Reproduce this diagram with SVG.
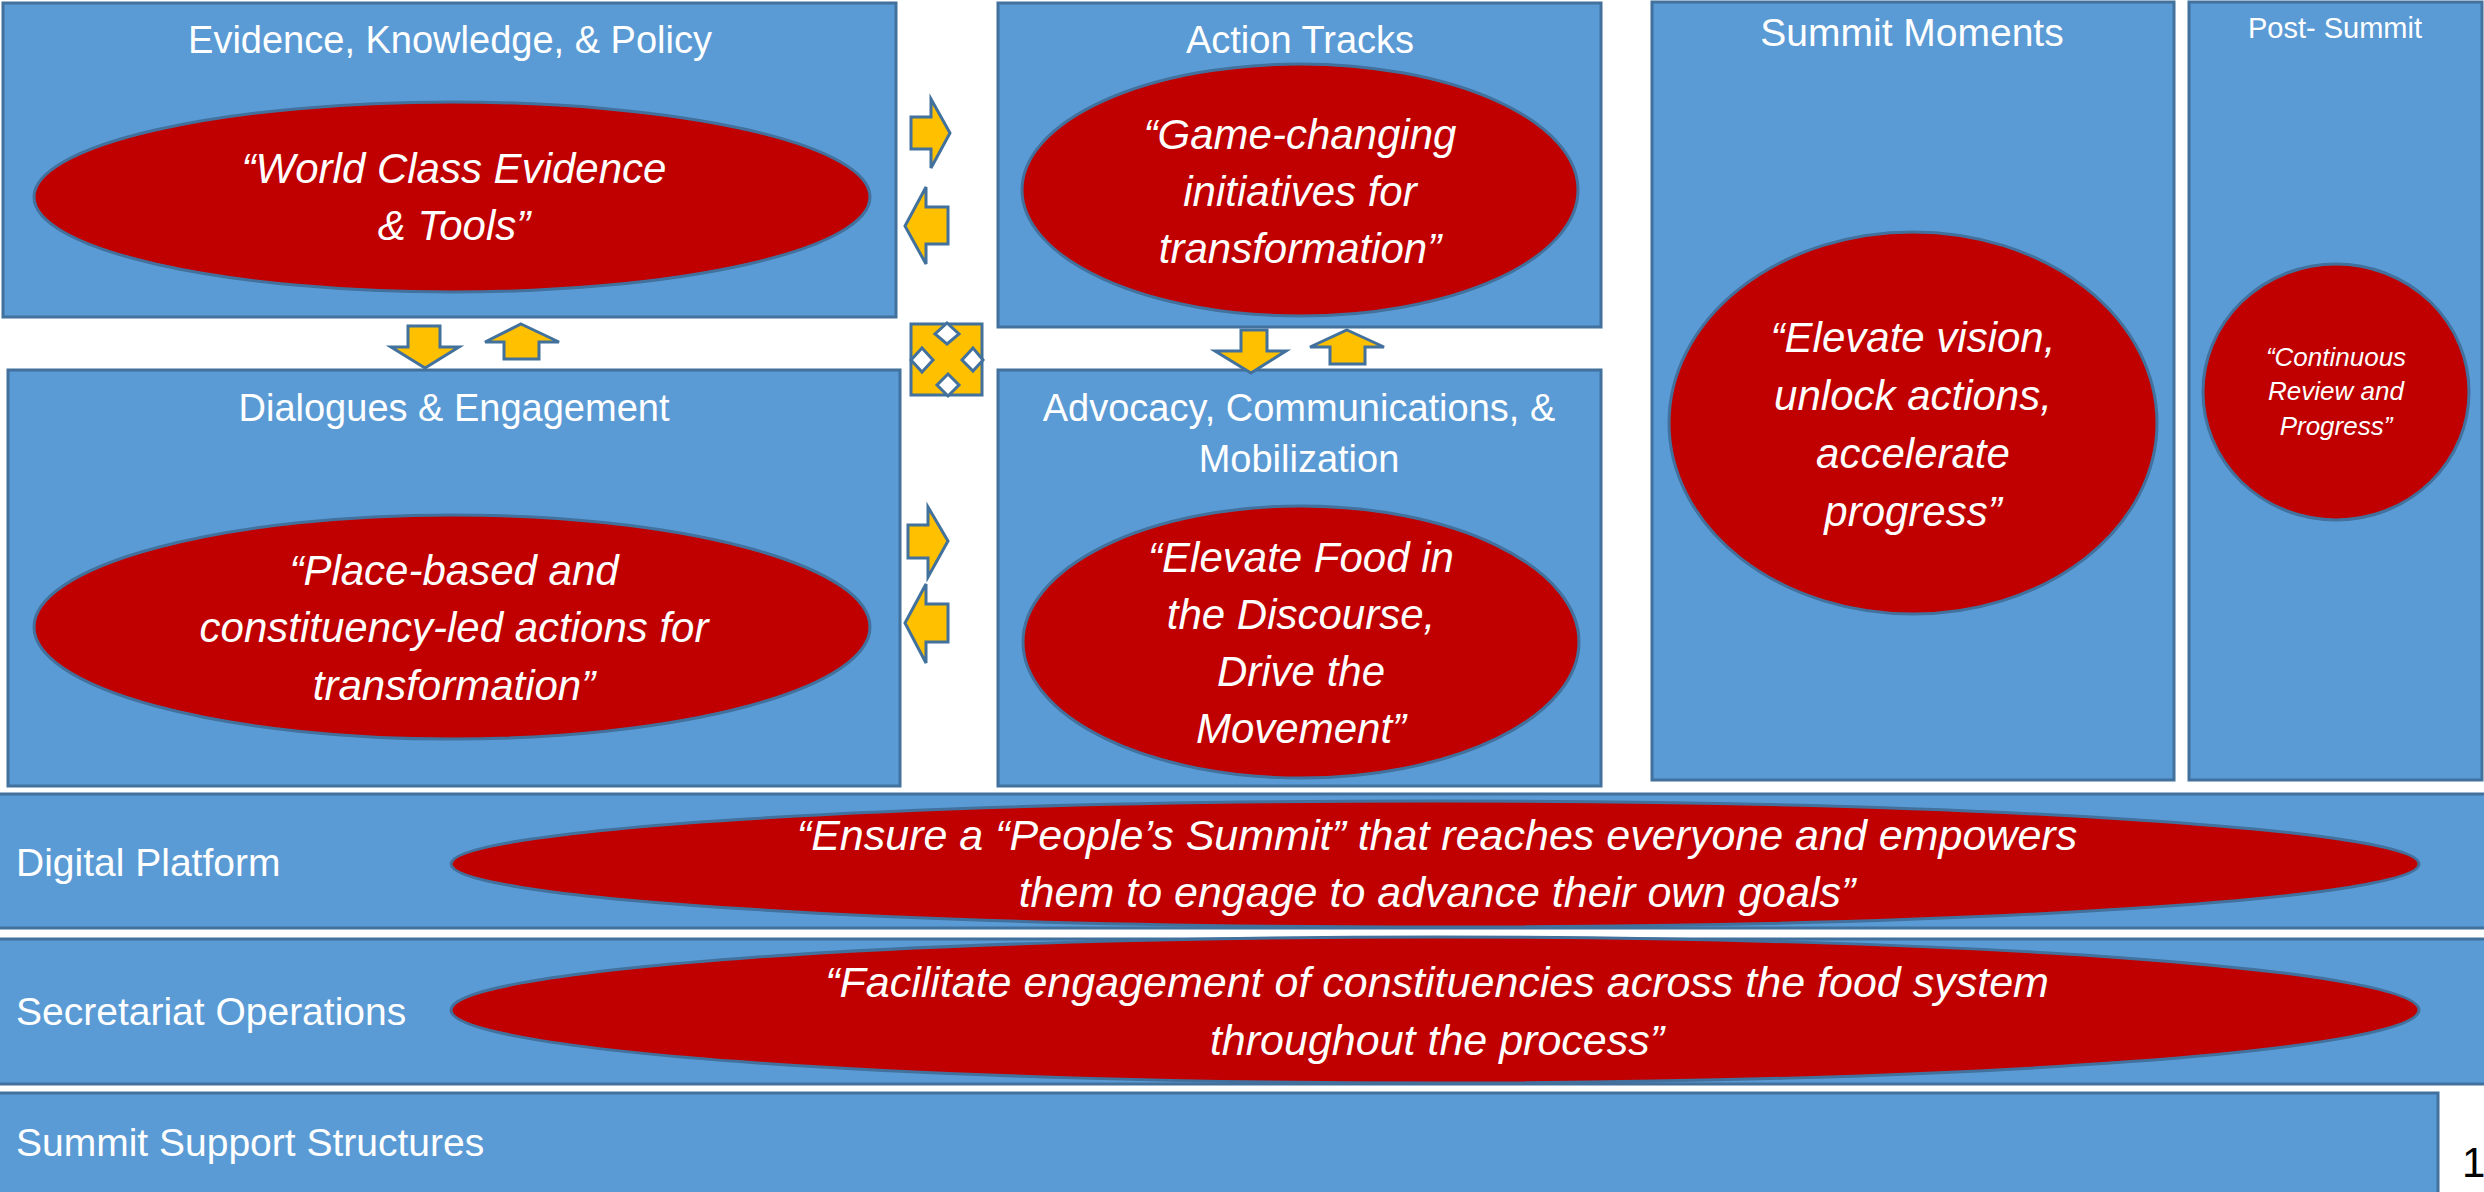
<svg xmlns="http://www.w3.org/2000/svg" width="2484" height="1192" viewBox="0 0 2484 1192">
<style>
.box{fill:#5B9BD5;stroke:#41719C;stroke-width:3}
.oval{fill:#C00000;stroke:#41719C;stroke-width:3}
.arr{fill:#FFC000;stroke:#41719C;stroke-width:3;stroke-linejoin:miter}
.notch{fill:#FFFFFF;stroke:#41719C;stroke-width:3}
.hd{font-family:"Liberation Sans",Arial,sans-serif;fill:#FFFFFF;text-anchor:middle}
.lb{font-family:"Liberation Sans",Arial,sans-serif;fill:#FFFFFF;font-size:39px}
.q{font-family:"Liberation Sans",Arial,sans-serif;fill:#FFFFFF;font-style:italic;text-anchor:middle;font-size:42px}
.qs{font-size:26px}
.ql{font-size:43px}
</style>
<rect width="2484" height="1192" fill="#FFFFFF"/>

<g id="evidence-knowledge-policy">
<rect class="box" x="3" y="3" width="893" height="314"/>
<text class="hd" x="450" y="53" font-size="38">Evidence, Knowledge, &amp; Policy</text>
<ellipse class="oval" cx="452" cy="197" rx="418" ry="95"/>
<text class="q" x="454" y="183">“World Class Evidence</text>
<text class="q" x="454" y="240">&amp; Tools”</text>
</g>

<g id="action-tracks">
<rect class="box" x="998" y="3" width="603" height="324"/>
<text class="hd" x="1300" y="53" font-size="38">Action Tracks</text>
<ellipse class="oval" cx="1300" cy="190" rx="278" ry="126"/>
<text class="q" x="1300" y="149">“Game-changing</text>
<text class="q" x="1300" y="206">initiatives for</text>
<text class="q" x="1300" y="263">transformation”</text>
</g>

<g id="dialogues-engagement">
<rect class="box" x="8" y="370" width="892" height="416"/>
<text class="hd" x="454" y="421" font-size="38">Dialogues &amp; Engagement</text>
<ellipse class="oval" cx="452" cy="627" rx="418" ry="112"/>
<text class="q" x="454" y="585">“Place-based and</text>
<text class="q" x="454" y="642">constituency-led actions for</text>
<text class="q" x="454" y="700">transformation”</text>
</g>

<g id="advocacy-communications-mobilization">
<rect class="box" x="998" y="370" width="603" height="416"/>
<text class="hd" x="1299" y="421" font-size="38">Advocacy, Communications, &amp;</text>
<text class="hd" x="1299" y="472" font-size="38">Mobilization</text>
<ellipse class="oval" cx="1301" cy="642" rx="278" ry="136"/>
<text class="q" x="1301" y="572">“Elevate Food in</text>
<text class="q" x="1301" y="629">the Discourse,</text>
<text class="q" x="1301" y="686">Drive the</text>
<text class="q" x="1301" y="743">Movement”</text>
</g>

<g id="summit-moments">
<rect class="box" x="1652" y="2" width="522" height="778"/>
<text class="hd" x="1912" y="46" font-size="39">Summit Moments</text>
<ellipse class="oval" cx="1913" cy="423" rx="244" ry="191"/>
<text class="q" x="1913" y="352">“Elevate vision,</text>
<text class="q" x="1913" y="410">unlock actions,</text>
<text class="q" x="1913" y="468">accelerate</text>
<text class="q" x="1913" y="526">progress”</text>
</g>

<g id="post-summit">
<rect class="box" x="2189" y="2" width="293" height="778"/>
<text class="hd" x="2335" y="38" font-size="29">Post- Summit</text>
<ellipse class="oval" cx="2336" cy="392" rx="133" ry="128"/>
<text class="q qs" x="2336" y="366">“Continuous</text>
<text class="q qs" x="2336" y="400">Review and</text>
<text class="q qs" x="2336" y="435">Progress”</text>
</g>

<g id="digital-platform">
<rect class="box" x="-5" y="794" width="2500" height="134"/>
<text class="lb" x="16" y="876">Digital Platform</text>
<ellipse class="oval" cx="1435" cy="864" rx="984" ry="63"/>
<text class="q ql" x="1437" y="850">“Ensure a “People’s Summit” that reaches everyone and empowers</text>
<text class="q ql" x="1437" y="907">them to engage to advance their own goals”</text>
</g>

<g id="secretariat-operations">
<rect class="box" x="-5" y="939" width="2500" height="145"/>
<text class="lb" x="16" y="1025">Secretariat Operations</text>
<ellipse class="oval" cx="1435" cy="1010" rx="984" ry="73"/>
<text class="q ql" x="1437" y="997">“Facilitate engagement of constituencies across the food system</text>
<text class="q ql" x="1437" y="1055">throughout the process”</text>
</g>

<g id="summit-support-structures">
<rect class="box" x="-5" y="1093" width="2443" height="110"/>
<text class="lb" x="16" y="1156">Summit Support Structures</text>
</g>

<g id="connectors">
<polygon class="arr" points="911,117 931,117 931,99 950,133 931,168 931,149 911,149"/>
<polygon class="arr" points="905,226 926,187 926,207 948,207 948,244 926,244 926,264"/>
<polygon class="arr" points="908,525 928,525 928,507 948,541 928,577 928,558 908,558"/>
<polygon class="arr" points="905,623 926,584 926,604 948,604 948,642 926,642 926,663"/>
<polygon class="arr" points="408,326 440,326 440,347 459,347 425,368 391,347 408,347"/>
<polygon class="arr" points="521,324 559,342 539,342 539,359 504,359 504,342 485,342"/>
<polygon class="arr" points="1241,330 1267,330 1267,351 1286,351 1251,373 1215,351 1241,351"/>
<polygon class="arr" points="1347,330 1384,347 1365,347 1365,364 1330,364 1330,347 1310,347"/>
<g id="quad-arrow">
<rect class="arr" x="911" y="324" width="71" height="71"/>
<polygon class="notch" points="947,323 959,334 947,344 935,334"/>
<polygon class="notch" points="911,360 922,348 933,360 922,372"/>
<polygon class="notch" points="962,360 973,348 983,360 973,371"/>
<polygon class="notch" points="948,374 959,385 948,396 937,385"/>
</g>
</g>

<text x="2462" y="1177" font-family="Liberation Sans,Arial,sans-serif" font-size="42" fill="#000000">1</text>
</svg>
